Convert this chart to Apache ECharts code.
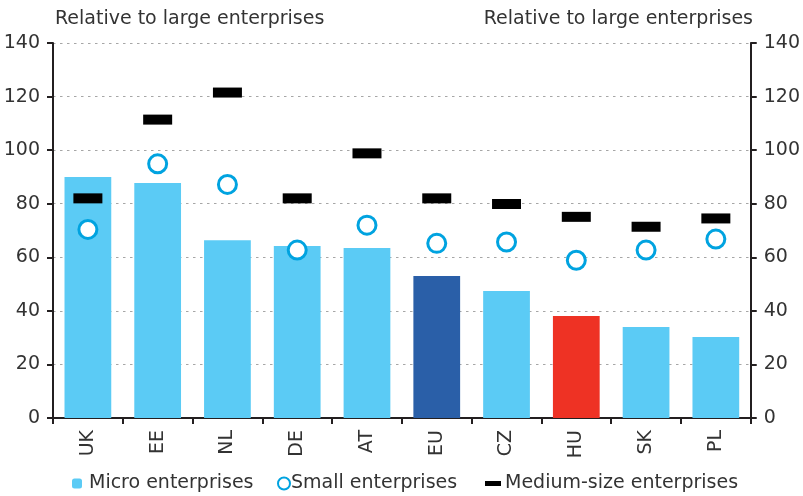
<!DOCTYPE html>
<html>
<head>
<meta charset="utf-8">
<script src="https://cdn.jsdelivr.net/npm/echarts@6/dist/echarts.min.js"></script>
<style>
  html, body { margin: 0; padding: 0; background: #fff; }
  #chart { width: 803px; height: 496px; }
</style>
</head>
<body>
<div id="chart"></div>
<script>
// Country codes along the x axis
const countries = ['UK', 'EE', 'NL', 'DE', 'AT', 'EU', 'CZ', 'HU', 'SK', 'PL'];
// Productivity relative to large enterprises (large = 100)
const microValues = [90, 87.7, 66.4, 64.2, 63.5, 53, 47.4, 38.1, 34, 30.2];
const smallValues = [70.4, 94.9, 87.2, 62.7, 72, 65.2, 65.7, 58.9, 62.7, 66.8];
const mediumValues = [82, 111.4, 121.5, 82, 98.8, 82, 79.9, 75.1, 71.4, 74.5];
// Axis ticks
const yTicks = [0, 20, 40, 60, 80, 100, 120, 140];

const FONT = 'DejaVu Sans';
const FS = 19;
const TEXT = '#333333';
const LIGHT = '#5bcbf5';
const highlight = { EU: '#2a5fa8', HU: '#ee3224' };

const chart = echarts.init(document.getElementById('chart'), null, { renderer: 'canvas' });

const yAxisBase = {
  type: 'value',
  min: yTicks[0],
  max: yTicks[yTicks.length - 1],
  interval: yTicks[1] - yTicks[0],
  axisLine: { show: true, lineStyle: { color: '#231f20', width: 2 } },
  axisTick: { show: true, length: 6, lineStyle: { color: '#231f20', width: 2 } },
  axisLabel: { color: TEXT, fontFamily: FONT, fontSize: FS, margin: 13 }
};

const legendText = { fontFamily: FONT, fontSize: FS, color: TEXT };

const option = {
  animation: false,
  backgroundColor: '#ffffff',
  textStyle: { fontFamily: FONT },
  title: [
    { text: 'Relative to large enterprises', left: 50, top: 5,
      textStyle: { fontFamily: FONT, fontSize: FS, fontWeight: 'normal', color: TEXT } },
    { text: 'Relative to large enterprises', right: 45, top: 5,
      textStyle: { fontFamily: FONT, fontSize: FS, fontWeight: 'normal', color: TEXT } }
  ],
  grid: { left: 53, right: 51, top: 43, bottom: 78, containLabel: false },
  legend: [
    { data: ['Micro enterprises'], left: 72, top: 474, padding: 0, itemWidth: 10, itemHeight: 10,
      textStyle: Object.assign({ padding: [0, 0, 0, 2] }, legendText) },
    { data: ['Small enterprises'], left: 277, top: 474, padding: 0, itemWidth: 12, itemHeight: 12,
      textStyle: Object.assign({ padding: [0, 0, 0, -4] }, legendText) },
    { data: [{ name: 'Medium-size enterprises', icon: 'rect' }], left: 485, top: 474, padding: 0, itemWidth: 16, itemHeight: 5,
      textStyle: Object.assign({ padding: [0, 0, 0, -1] }, legendText) }
  ],
  xAxis: {
    type: 'category',
    data: countries,
    boundaryGap: true,
    axisLine: { lineStyle: { color: '#231f20', width: 2 } },
    axisTick: { show: true, interval: 0, length: 6, lineStyle: { color: '#231f20', width: 2 } },
    axisLabel: { interval: 0, rotate: 90, color: TEXT, fontFamily: FONT, fontSize: FS, margin: 12 }
  },
  yAxis: [
    Object.assign({}, yAxisBase, {
      position: 'left',
      splitLine: { show: true, lineStyle: { color: '#a6a6a6', width: 1.2, type: [2.5, 4.5] } }
    }),
    Object.assign({}, yAxisBase, {
      position: 'right',
      splitLine: { show: false }
    })
  ],
  series: [
    {
      name: 'Micro enterprises',
      type: 'bar',
      barWidth: '67%',
      itemStyle: { color: LIGHT },
      data: microValues.map((v, i) => ({
        value: v,
        itemStyle: { color: highlight[countries[i]] || LIGHT }
      })),
      z: 2
    },
    {
      name: 'Small enterprises',
      type: 'scatter',
      symbol: 'circle',
      symbolSize: 18,
      itemStyle: { color: '#ffffff', borderColor: '#00a3e0', borderWidth: 3, opacity: 1 },
      data: smallValues,
      z: 4
    },
    {
      name: 'Medium-size enterprises',
      type: 'scatter',
      symbol: 'rect',
      symbolSize: [29, 10],
      itemStyle: { color: '#000000', opacity: 1 },
      data: mediumValues,
      z: 3
    }
  ]
};

chart.setOption(option);
</script>
</body>
</html>
